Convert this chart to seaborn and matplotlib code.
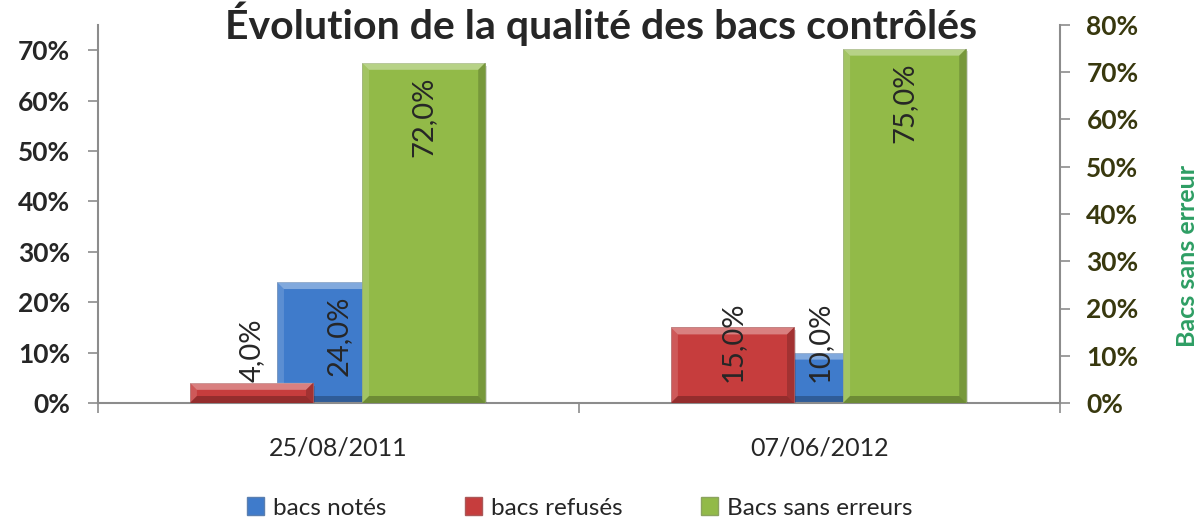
import matplotlib
matplotlib.use("Agg")
import matplotlib.pyplot as plt
import matplotlib.patheffects as pe
from matplotlib.patches import Patch, Polygon
from matplotlib.ticker import PercentFormatter, FixedLocator
import numpy as np
import seaborn as sns

# --- data ---
dates = ["25/08/2011", "07/06/2012"]
bacs_notes = [0.24, 0.10]
bacs_refuses = [0.04, 0.15]
bacs_sans_erreurs = [0.72, 0.75]

title = "Évolution de la qualité des bacs contrôlés"

# --- style ---
sns.set_theme(style="white")
plt.rcParams["font.family"] = ["Lato", "DejaVu Sans"]

BLUE = "#3F7BCB"
RED = "#C63D3D"
GREEN = "#92BA48"
GRID = "#8C8C8C"
OLIVE = "#38380E"

fig = plt.figure(figsize=(12.03, 5.2), dpi=100)
ax = fig.add_axes([98 / 1203, 117 / 520, 962 / 1203, 378 / 520])
ax2 = ax.twinx()

x = np.arange(len(dates))
width = 0.256
shadow = [pe.SimplePatchShadow(offset=(1.5, -2), alpha=0.18), pe.Normal()]


# Excel 2007 style bevel: light top/left, dark right/bottom
def bevel(axis, patches, ymax, z):
    bx = 7 / 481
    by = 7 * ymax / 378
    for p in patches:
        p.set_path_effects(shadow)
        p.set_zorder(z)
        x0, y0 = p.get_x(), p.get_y()
        x1, y1 = x0 + p.get_width(), y0 + p.get_height()
        b = min(by, (y1 - y0) / 2)
        bxx = bx * b / by
        faces = [
            ([(x0, y1), (x1, y1), (x1 - bxx, y1 - b), (x0 + bxx, y1 - b)], "white", 0.35),
            ([(x0, y0), (x0, y1), (x0 + bxx, y1 - b), (x0 + bxx, y0 + b)], "white", 0.15),
            ([(x1, y0), (x1, y1), (x1 - bxx, y1 - b), (x1 - bxx, y0 + b)], "black", 0.18),
            ([(x0, y0), (x1, y0), (x1 - bxx, y0 + b), (x0 + bxx, y0 + b)], "black", 0.25),
        ]
        for pts, c, a in faces:
            axis.add_patch(Polygon(pts, closed=True, facecolor=c, alpha=a,
                                   edgecolor="none", zorder=z + 0.1))


def bars(axis, offset, values, color, ymax, z):
    before = len(axis.patches)
    sns.barplot(x=x + offset, y=values, native_scale=True, width=width,
                color=color, saturation=1, errorbar=None, ax=axis,
                edgecolor=sns.utils.desaturate(color, 0.6), linewidth=0.6)
    bevel(axis, list(axis.patches)[before:], ymax, z)


bars(ax, 0.0, bacs_notes, BLUE, 0.75, 2)
bars(ax, -0.181, bacs_refuses, RED, 0.75, 3)
bars(ax2, 0.177, bacs_sans_erreurs, GREEN, 0.80, 2)

ax.set_xlim(-0.5, 1.5)
ax.set_ylim(0, 0.75)
ax2.set_ylim(0, 0.80)


# data labels, Excel style: inside end, or lifted off the base if too short
def labels(axis, offset, values, ymax):
    px_per_unit = 378 / ymax
    for xi, v in zip(x, values):
        txt = f"{v * 100:.1f}%".replace(".", ",")
        if v * px_per_unit > 100:
            axis.annotate(txt, (xi + offset, v), xytext=(0, -10),
                          textcoords="offset points", rotation=90,
                          ha="center", va="top", fontsize=21, zorder=5)
        else:
            axis.annotate(txt, (xi + offset, 0), xytext=(0, 15),
                          textcoords="offset points", rotation=90,
                          ha="center", va="bottom", fontsize=21, zorder=5)


labels(ax, 0.0, bacs_notes, 0.75)
labels(ax, -0.181, bacs_refuses, 0.75)
labels(ax2, 0.177, bacs_sans_erreurs, 0.80)

# axes
for a in (ax, ax2):
    for s in a.spines.values():
        s.set_visible(False)
ax.spines["left"].set_visible(True)
ax.spines["bottom"].set_visible(True)
ax2.spines["right"].set_visible(True)
for s in (ax.spines["left"], ax.spines["bottom"], ax2.spines["right"]):
    s.set_color(GRID)
    s.set_linewidth(1.5)

ax.yaxis.set_major_locator(FixedLocator(np.arange(0, 0.71, 0.1)))
ax.yaxis.set_major_formatter(PercentFormatter(1.0, decimals=0))
ax2.yaxis.set_major_locator(FixedLocator(np.arange(0, 0.81, 0.1)))
ax2.yaxis.set_major_formatter(PercentFormatter(1.0, decimals=0))

ax.tick_params(axis="y", direction="out", length=7, width=1.2, color=GRID,
               labelsize=19, pad=13, left=True)
ax2.tick_params(axis="y", direction="out", length=7, width=1.2, color=GRID,
                labelsize=19, pad=12, labelcolor=OLIVE, right=True)
for t in ax.get_yticklabels():
    t.set_fontweight("bold")
for t in ax2.get_yticklabels():
    t.set_fontweight("bold")

ax.set_xticks(x)
ax.set_xticklabels(dates, fontsize=18)
ax.set_xticks([-0.5, 0.5, 1.5], minor=True)
ax.tick_params(axis="x", which="major", length=0, pad=24)
ax.tick_params(axis="x", which="minor", direction="out", length=7,
               width=1.2, color=GRID, bottom=True)
ax.set_xlabel("")
ax.set_ylabel("")
ax2.set_ylabel("")
ax.grid(False)
ax2.grid(False)

ax2.text(1.133, 0.39, "Bacs sans erreur", transform=ax2.transAxes,
         rotation=90, ha="center", va="center", fontsize=18,
         fontweight="bold", color="#2E9E64")

fig.text(0.5, 1 - 39 / 520, title, ha="center", va="baseline",
         fontsize=29.5, fontweight="bold")

handles = [Patch(facecolor=BLUE, edgecolor=sns.utils.desaturate(BLUE, 0.6)),
           Patch(facecolor=RED, edgecolor=sns.utils.desaturate(RED, 0.6)),
           Patch(facecolor=GREEN, edgecolor=sns.utils.desaturate(GREEN, 0.6))]
fig.legend(handles, ["bacs notés", "bacs refusés", "Bacs sans erreurs"],
           loc="center", bbox_to_anchor=(0.482, 12 / 520), ncol=3,
           frameon=False, fontsize=17.5, handlelength=0.7, handleheight=0.7,
           handletextpad=0.4, columnspacing=3.2)

fig.savefig("out.png", dpi=100)
